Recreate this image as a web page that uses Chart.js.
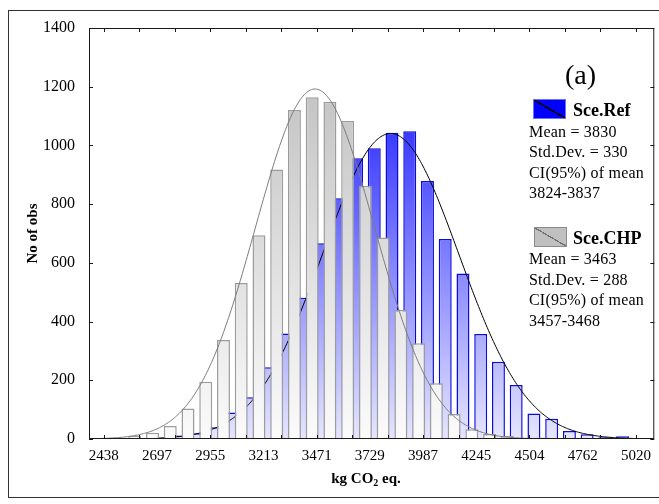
<!DOCTYPE html>
<html>
<head>
<meta charset="utf-8">
<script src="https://cdn.jsdelivr.net/npm/chart.js@4.4.0/dist/chart.umd.min.js"></script>
<style>
  body { margin: 0; background: #fff; }
  #wrap { position: relative; width: 659px; height: 504px; overflow: hidden; background: #fff;
          font-family: "Liberation Serif", "Times New Roman", serif; color: #000; }
  #frame { position: absolute; left: 8px; top: 10px; width: 700px; height: 486px; border: 1px solid #333; }
  canvas { position: absolute; left: 0; top: 0; }
  .txt { position: absolute; white-space: nowrap; }
  .bold { font-weight: bold; }
  .stats { font-size: 16px; line-height: 20.4px; letter-spacing: 0.2px; }
  .swatch { position: absolute; width: 31px; height: 18px; border: 1px solid; }
  .swatch.ref { border-color: #7070ff;
    background: linear-gradient(to top right, #0000ff calc(50% - 0.8px), #000 calc(50% - 0.8px), #000 calc(50% + 0.8px), #0000ff calc(50% + 0.8px)); }
  .swatch.chp { border-color: #8a8a8a;
    background: linear-gradient(to top right, #c0c0c0 calc(50% - 0.6px), #707070 calc(50% - 0.6px), #707070 calc(50% + 0.6px), #c0c0c0 calc(50% + 0.6px)); }
  #xtitle { left: 366px; top: 469px; transform: translateX(-50%); font-size: 15px; line-height: 18px; }
  #xtitle sub { font-size: 10px; vertical-align: -3px; line-height: 0; }
</style>
</head>
<body>
<div id="wrap">
  <div id="frame"></div>
  <canvas id="histChart" width="659" height="504"></canvas>

  <div class="txt" style="left:565px; top:58.5px; font-size:28px; line-height:32px">(a)</div>

  <div class="swatch ref" style="left:533px; top:99px"></div>
  <div class="txt bold" style="left:573px; top:100px; font-size:18px; line-height:20px">Sce.Ref</div>
  <div class="txt stats" id="refStats" style="left:529px; top:121.7px"></div>

  <div class="swatch chp" style="left:534px; top:227px"></div>
  <div class="txt bold" style="left:573px; top:228.4px; font-size:18px; line-height:20px">Sce.CHP</div>
  <div class="txt stats" id="chpStats" style="left:529px; top:249.4px"></div>

  <div class="txt bold" id="xtitle">kg CO<sub>2</sub> eq.</div>
</div>

<script>
// histogram bins: first bin centred on 2438, 30 bins up to 5020
const binStart = 2438;
const binWidth = (5020 - 2438) / 30;

// observation counts per bin
const refCounts = [0, 1, 2, 4, 12, 20, 40, 90, 142, 244, 359, 481, 667, 820, 956,
                   990, 1043, 1048, 879, 681, 564, 358, 263, 184, 87, 69, 27, 16, 6, 9];
const chpCounts = [1, 4, 11, 21, 44, 104, 195, 337, 531, 694, 918, 1121, 1164, 1149, 1083,
                   863, 686, 439, 326, 190, 85, 33, 17, 10, 4, 5, 2, 2, 0, 0];

// summary statistics shown next to the plot (also used for the fitted curves)
const nObs = 10000;
const refMean = 3830, refSd = 330, refCi = '3824-3837';
const chpMean = 3463, chpSd = 288, chpCi = '3457-3468';

// axis ticks
const xTickLabels = ['2438', '2697', '2955', '3213', '3471', '3729', '3987', '4245', '4504', '4762', '5020'];
const yTicks = [0, 200, 400, 600, 800, 1000, 1200, 1400];

const xMin = 2366.5, xMax = 5109;

function statsHtml(mean, sd, ci) {
    return `Mean = ${mean}<br>Std.Dev. = ${sd}<br>CI(95%) of mean<br>${ci}`;
}
document.getElementById('refStats').innerHTML = statsHtml(refMean, refSd, refCi);
document.getElementById('chpStats').innerHTML = statsHtml(chpMean, chpSd, chpCi);

function toBars(counts) {
    return counts.map((c, i) => ({ x: binStart + i * binWidth, y: c }));
}

// normal curve scaled to counts per bin
function normalCurve(mean, sd) {
    const pts = [];
    const peak = nObs * binWidth / (sd * Math.sqrt(2 * Math.PI));
    for (let x = xMin; x <= xMax; x += 6) {
        const z = (x - mean) / sd;
        pts.push({ x: x, y: peak * Math.exp(-z * z / 2) });
    }
    return pts;
}

// vertical gradient across the whole plot area
function plotGradient(chart, top, bottom) {
    const a = chart.chartArea;
    if (!a) return top;
    const g = chart.ctx.createLinearGradient(0, a.top, 0, a.bottom);
    g.addColorStop(0, top);
    g.addColorStop(1, bottom);
    return g;
}

const serif = '"Liberation Serif", "Times New Roman", serif';

// box around the plot with small inward ticks on all four sides
const frameTicks = {
    id: 'frameTicks',
    afterDatasetsDraw(chart) {
        const { ctx, chartArea: a, scales: { x, y } } = chart;
        ctx.save();
        ctx.strokeStyle = '#1a1a1a';
        ctx.lineWidth = 1;
        ctx.strokeRect(a.left + 0.5, a.top + 0.5, a.right - a.left - 1, a.bottom - a.top - 1);
        ctx.beginPath();
        yTicks.forEach(v => {
            const py = Math.round(y.getPixelForValue(v)) + 0.5;
            ctx.moveTo(a.left, py); ctx.lineTo(a.left + 4, py);
            ctx.moveTo(a.right, py); ctx.lineTo(a.right - 4, py);
        });
        for (let v = binStart; v <= xMax; v += 2 * binWidth) {
            const px = Math.round(x.getPixelForValue(v)) + 0.5;
            ctx.moveTo(px, a.bottom); ctx.lineTo(px, a.bottom - 4);
            ctx.moveTo(px, a.top); ctx.lineTo(px, a.top + 4);
        }
        ctx.stroke();
        ctx.restore();
    }
};

const barCommon = { type: 'bar', borderWidth: 1.5, categoryPercentage: 1, barPercentage: 1.46 };

new Chart(document.getElementById('histChart').getContext('2d'), {
    data: {
        datasets: [
            Object.assign({}, barCommon, {
                label: 'Sce.Ref',
                data: toBars(refCounts),
                order: 4,
                backgroundColor: c => plotGradient(c.chart, '#0000ff', '#e6e6ff'),
                borderColor: '#0b0be0'
            }),
            {
                type: 'line',
                data: normalCurve(refMean, refSd),
                order: 3,
                borderColor: '#000',
                borderWidth: 1,
                pointRadius: 0,
                tension: 0
            },
            Object.assign({}, barCommon, {
                label: 'Sce.CHP',
                data: toBars(chpCounts),
                order: 2,
                backgroundColor: c => plotGradient(c.chart, '#bababa', '#fbfbfb'),
                borderColor: '#9c9c9c'
            }),
            {
                type: 'line',
                data: normalCurve(chpMean, chpSd),
                order: 1,
                borderColor: '#7c7c7c',
                borderWidth: 1,
                pointRadius: 0,
                tension: 0
            }
        ]
    },
    options: {
        responsive: false,
        animation: false,
        devicePixelRatio: 1,
        layout: { padding: { top: 28, right: 2, left: 0, bottom: 0 } },
        plugins: {
            legend: { display: false },
            tooltip: { enabled: false }
        },
        scales: {
            x: {
                type: 'linear',
                min: xMin,
                max: xMax,
                offset: false,
                grid: { display: false, drawTicks: false },
                border: { display: false },
                afterBuildTicks: s => { s.ticks = xTickLabels.map(t => ({ value: Number(t) })); },
                afterFit: s => { s.height = 65; },
                ticks: {
                    autoSkip: false,
                    maxRotation: 0,
                    padding: 8,
                    color: '#000',
                    font: { family: serif, size: 15 },
                    callback: (v, i) => xTickLabels[i]
                }
            },
            y: {
                min: 0,
                max: 1400,
                grid: { display: false, drawTicks: false },
                border: { display: false },
                afterBuildTicks: s => { s.ticks = yTicks.map(v => ({ value: v })); },
                afterFit: s => { s.width = 89; },
                ticks: {
                    padding: 14,
                    color: '#000',
                    font: { family: serif, size: 16 },
                    callback: v => String(v)
                },
                title: {
                    display: true,
                    text: 'No of obs',
                    color: '#000',
                    font: { family: serif, size: 15, weight: 'bold' },
                    padding: { top: 24, bottom: 0 }
                }
            }
        }
    },
    plugins: [frameTicks]
});
</script>
</body>
</html>
